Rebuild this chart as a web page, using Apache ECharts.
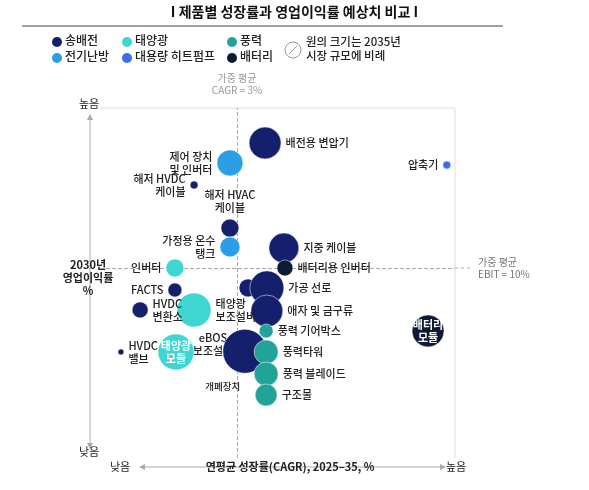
<!DOCTYPE html>
<html><head><meta charset="utf-8">
<script src="https://cdn.jsdelivr.net/npm/echarts@6/dist/echarts.min.js"></script>
<style>html,body{margin:0;background:#fff}#c{width:589px;height:490px}</style>
</head><body><div id="c"></div>
<script>
// 좌표: x = 성장률(0~100 상대값), y = 영업이익률(0~100 상대값), r = 반지름(px)
const groups = ['송배전', '태양광', '풍력', '전기난방', '대용량 히트펌프', '배터리'];
const colors = ['#14206b', '#3fd6d2', '#22a39a', '#2a9ee6', '#3b6cf0', '#0c1a33'];
// [x, y, r, label, labelPos]
const 송배전 = [
  [46.5, 90, 16, '배전용 변압기', 'right'],
  [26.5, 78, 4, '해저 HVDC\n케이블', 'left'],
  [36.6, 65.7, 9, '해저 HVAC\n케이블', 'top'],
  [51.8, 60, 15, '지중 케이블', 'right'],
  [21.1, 48, 7, 'FACTS', 'left'],
  [41.7, 48.6, 9, '', 'right'],
  [47.0, 48.6, 17, '가공 선로', 'right'],
  [47.0, 42, 16, '애자 및 금구류', 'right'],
  [11.3, 42.3, 8, 'HVDC\n변환소', 'right'],
  [5.9, 30.3, 3, 'HVDC\n밸브', 'right'],
  [40.8, 30.5, 22, '개폐장치', 'bottom']
];
const 태양광 = [
  [21.1, 54.3, 9, '인버터', 'left'],
  [26.5, 42.3, 17, '태양광\n보조설비', 'right'],
  [21.4, 30.3, 18, '태양광\n모듈', 'inside']
];
const 풍력 = [
  [46.8, 36.3, 7, '풍력 기어박스', 'right'],
  [46.8, 30.3, 12, '풍력타워', 'right'],
  [46.8, 24, 12, '풍력 블레이드', 'right'],
  [46.8, 18, 11, '구조물', 'right']
];
const 전기난방 = [
  [36.6, 84.3, 13, '제어 장치\n및 인버터', 'left'],
  [36.6, 60.3, 10, '가정용 온수\n탱크', 'left']
];
const 히트펌프 = [[97.7, 83.7, 4, '압축기', 'left']];
const 배터리 = [
  [52.1, 54.3, 8, '배터리용 인버터', 'right'],
  [92.4, 36.3, 16, '배터리\n모듈', 'inside']
];
const seriesData = [송배전, 태양광, 풍력, 전기난방, 히트펌프, 배터리];
const avgX = 38.6, avgY = 54.3;

const chart = echarts.init(document.getElementById('c'));
const font = '"Noto Sans CJK KR", sans-serif';
const series = seriesData.map((arr, i) => ({
  name: groups[i], type: 'scatter',
  data: arr.map(d => ({
    value: [d[0], d[1]], symbolSize: d[2] * 2,
    label: {
      show: !!d[3], formatter: d[3], position: d[4], distance: 4,
      offset: d[3] === '개폐장치' ? [-22, 2] : [0, 0],
      color: d[4] === 'inside' ? '#fff' : '#222', fontSize: d[3] === '개폐장치' ? 9.5 : 11,
      fontWeight: d[4] === 'inside' ? 'bold' : 500, fontFamily: font, lineHeight: 13
    }
  })),
  itemStyle: { color: colors[i], opacity: 1, borderColor: 'rgba(255,255,255,0.5)', borderWidth: 1 },
  z: 3
}));
series[0].markLine = {
  silent: true, symbol: 'none', label: { show: false }, z: 1,
  lineStyle: { color: '#aaa', type: 'dashed', width: 1 },
  data: [{ xAxis: avgX }, { yAxis: avgY }]
};
const legendItems = [
  [groups[0], 0, 57, 42], [groups[1], 1, 127, 42], [groups[2], 2, 232, 42],
  [groups[3], 3, 57, 58], [groups[4], 4, 127, 58], [groups[5], 5, 232, 58]
];
const g = [];
legendItems.forEach(([t, ci, x, y]) => {
  g.push({ type: 'circle', shape: { cx: x, cy: y, r: 5 }, style: { fill: colors[ci] } });
  g.push({ type: 'text', x: x + 8, y: y - 8, style: { text: t, fontSize: 12, fontWeight: 500, fontFamily: font, fill: '#222' } });
});
chart.setOption({
  animation: false,
  grid: { left: 100, right: 134, top: 108, bottom: 32 },
  xAxis: { type: 'value', min: 0, max: 100, show: false },
  yAxis: { type: 'value', min: 0, max: 100, show: false },
  series,
  graphic: g.concat([
    { type: 'text', left: 'center', top: 5, style: { text: 'I 제품별 성장률과 영업이익률 예상치 비교 I', fontSize: 14, fontWeight: 'bold', fontFamily: font, fill: '#111' } },
    { type: 'line', shape: { x1: 22, y1: 26, x2: 503, y2: 26 }, style: { stroke: '#444', lineWidth: 1.2 } },
    { type: 'circle', shape: { cx: 293, cy: 50, r: 8 }, style: { fill: '#fff', stroke: '#999' } },
    { type: 'line', shape: { x1: 289, y1: 54, x2: 297, y2: 46 }, style: { stroke: '#999' } },
    { type: 'text', x: 306, y: 35, style: { text: '원의 크기는 2035년\n시장 규모에 비례', fontSize: 11.5, fontWeight: 500, lineHeight: 14, fontFamily: font, fill: '#222' } },
    { type: 'text', x: 237, y: 72, style: { text: '가중 평균\nCAGR = 3%', align: 'center', fontSize: 10, lineHeight: 12, fontFamily: font, fill: '#999' } },
    { type: 'text', x: 478, y: 256, style: { text: '가중 평균\nEBIT = 10%', fontSize: 10, lineHeight: 12, fontFamily: font, fill: '#777' } },
    { type: 'line', shape: { x1: 455, y1: 268, x2: 472, y2: 268 }, style: { stroke: '#aaa', lineDash: [3, 3] } },
    { type: 'polyline', shape: { points: [[100, 108], [455, 108], [455, 458]] }, style: { stroke: '#ddd', fill: null } },
    { type: 'line', shape: { x1: 90, y1: 115, x2: 90, y2: 448 }, style: { stroke: '#aaa' } },
    { type: 'polygon', shape: { points: [[87, 120], [93, 120], [90, 114]] }, style: { fill: '#aaa' } },
    { type: 'polygon', shape: { points: [[87, 443], [93, 443], [90, 449]] }, style: { fill: '#aaa' } },
    { type: 'line', shape: { x1: 140, y1: 467, x2: 445, y2: 467 }, style: { stroke: '#aaa' } },
    { type: 'polygon', shape: { points: [[145, 464], [145, 470], [139, 467]] }, style: { fill: '#aaa' } },
    { type: 'polygon', shape: { points: [[440, 464], [440, 470], [446, 467]] }, style: { fill: '#aaa' } },
    { type: 'text', x: 89, y: 98, style: { text: '높음', align: 'center', fontSize: 11, fontFamily: font, fill: '#222' } },
    { type: 'text', x: 89, y: 446, style: { text: '낮음', align: 'center', fontSize: 11, fontFamily: font, fill: '#222' } },
    { type: 'text', x: 120, y: 461, style: { text: '낮음', align: 'center', fontSize: 11, fontFamily: font, fill: '#222' } },
    { type: 'text', x: 456, y: 461, style: { text: '높음', align: 'center', fontSize: 11, fontFamily: font, fill: '#222' } },
    { type: 'text', x: 88, y: 258, style: { text: '2030년\n영업이익률\n%', align: 'center', fontSize: 11, lineHeight: 13, fontWeight: 'bold', fontFamily: font, fill: '#222' } },
    { type: 'text', x: 290, y: 461, style: { text: '연평균 성장률(CAGR), 2025–35, %', align: 'center', fontSize: 11, fontWeight: 'bold', fontFamily: font, fill: '#222' } },
    { type: 'text', x: 213, y: 331, style: { text: 'eBOS\n보조설비', align: 'center', fontSize: 11, fontWeight: 500, lineHeight: 13, fontFamily: font, fill: '#222' } }
  ])
});
</script></body></html>
